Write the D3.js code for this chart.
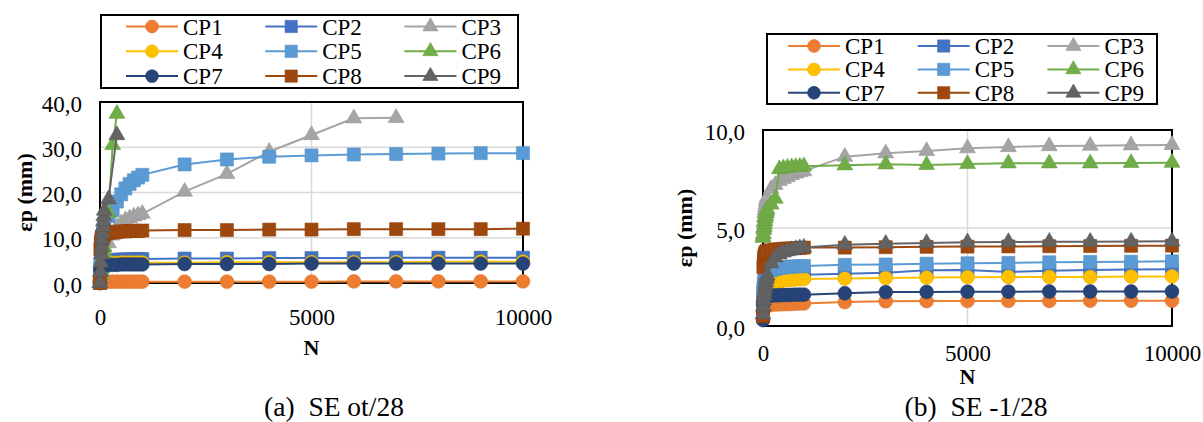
<!DOCTYPE html>
<html><head><meta charset="utf-8">
<script src="https://cdn.jsdelivr.net/npm/d3@7"></script>
<style>
html,body{margin:0;padding:0;background:#fff;}
svg{display:block;}
svg text{font-family:"Liberation Serif","Times New Roman",serif !important;}
</style></head>
<body><svg id="c" width="1203" height="422"></svg>
<script>
// ---------- data ----------
const seriesNames = ["CP1","CP2","CP3","CP4","CP5","CP6","CP7","CP8","CP9"];
const seriesColors = ["#ED7D31","#4472C4","#A5A5A5","#FFC000","#5B9BD5","#70AD47","#264478","#9E480E","#636363"];
const seriesShapes = ["circle","square","triangle","circle","square","triangle","circle","square","triangle"];
const nValues = [0,10,20,30,40,50,60,70,80,90,100,200,300,400,500,600,700,800,900,1000,2000,3000,4000,5000,6000,7000,8000,9000,10000];

// (a) SE ot/28
const a_CP1 = [0,0.1,0.15,0.2,0.2,0.2,0.25,0.25,0.25,0.25,0.25,0.25,0.3,0.3,0.3,0.3,0.3,0.3,0.3,0.3,0.3,0.3,0.3,0.3,0.35,0.35,0.35,0.35,0.35];
const a_CP2 = [0,3.2,3.8,4.1,4.3,4.5,4.6,4.7,4.8,4.9,4.9,5.0,5.1,5.1,5.2,5.2,5.2,5.3,5.3,5.3,5.4,5.4,5.5,5.5,5.5,5.6,5.6,5.6,5.6];
const a_CP3 = [0,1.5,2.5,3.2,3.8,4.3,4.8,5.2,5.6,6.0,6.6,8.8,10.5,12.4,13.2,13.9,14.3,14.7,15.0,15.3,20.2,24.1,29.0,32.7,36.4,36.5,null,null,null];
const a_CP4 = [0,3.0,3.6,3.9,4.0,4.1,4.2,4.2,4.3,4.3,4.3,4.4,4.4,4.4,4.5,4.5,4.5,4.5,4.5,4.5,4.5,4.6,4.6,4.6,4.6,4.6,4.7,4.7,4.7];
const a_CP5 = [0,3.5,5.5,7.0,8.2,9.2,10.0,10.8,11.5,12.1,12.6,14.8,16.1,18.0,19.6,20.9,21.9,22.7,23.3,23.9,26.2,27.3,27.9,28.2,28.4,28.5,28.6,28.7,28.7];
const a_CP6 = [0,1.0,1.8,2.5,3.2,4.0,4.8,5.6,6.5,7.3,8.0,15.5,30.5,37.4,null,null,null,null,null,null,null,null,null,null,null,null,null,null,null];
const a_CP7 = [0,2.8,3.3,3.5,3.6,3.7,3.8,3.8,3.9,3.9,3.9,4.0,4.0,4.0,4.1,4.1,4.1,4.1,4.1,4.1,4.2,4.2,4.2,4.3,4.3,4.3,4.3,4.3,4.3];
const a_CP8 = [0,7.5,8.8,9.4,9.8,10.1,10.3,10.4,10.5,10.6,10.7,11.0,11.2,11.3,11.4,11.4,11.5,11.5,11.5,11.6,11.7,11.7,11.8,11.8,11.9,11.9,11.9,11.9,12.0];
const a_CP9 = [0,2.5,4.5,6.3,8.0,9.6,11.0,12.4,13.6,14.8,16.0,18.5,null,32.7,null,null,null,null,null,null,null,null,null,null,null,null,null,null,null];

// (b) SE -1/28
const b_CP1 = [0.7,0.85,0.92,0.96,0.99,1.0,1.02,1.03,1.04,1.05,1.05,1.08,1.1,1.1,1.12,1.12,1.13,1.14,1.15,1.15,1.22,1.26,1.27,1.28,1.28,1.28,1.29,1.29,1.29];
const b_CP2 = [1.0,1.7,1.9,2.0,2.1,2.15,2.2,2.25,2.3,2.32,2.35,2.45,2.5,2.52,2.55,2.57,2.58,2.6,2.6,2.62,2.66,2.72,2.85,2.86,2.76,2.82,2.86,2.88,2.9];
const b_CP3 = [4.6,5.0,5.3,5.55,5.75,5.9,6.05,6.2,6.35,6.45,6.55,7.0,7.2,7.4,7.5,7.6,7.7,7.78,7.85,7.9,8.64,8.81,8.93,9.07,9.13,9.18,9.2,9.22,9.24];
const b_CP4 = [1.2,1.55,1.7,1.8,1.87,1.92,1.97,2.0,2.03,2.06,2.08,2.18,2.24,2.28,2.32,2.34,2.36,2.38,2.39,2.4,2.42,2.45,2.47,2.49,2.5,2.5,2.5,2.52,2.53];
const b_CP5 = [1.4,1.9,2.1,2.25,2.38,2.48,2.55,2.6,2.65,2.7,2.72,2.85,2.92,2.96,2.99,3.01,3.03,3.04,3.05,3.06,3.12,3.14,3.18,3.2,3.22,3.25,3.27,3.28,3.3];
const b_CP6 = [4.5,4.7,4.9,5.05,5.2,5.35,5.5,5.62,5.75,5.85,5.95,6.2,6.5,8.0,8.05,8.08,8.1,8.12,8.13,8.15,8.2,8.25,8.22,8.27,8.3,8.3,8.3,8.32,8.33];
const b_CP7 = [0.3,1.15,1.3,1.37,1.42,1.45,1.47,1.49,1.5,1.51,1.52,1.55,1.56,1.57,1.58,1.58,1.59,1.6,1.6,1.6,1.67,1.73,1.74,1.75,1.75,1.76,1.76,1.76,1.76];
const b_CP8 = [0.5,3.0,3.35,3.5,3.6,3.66,3.71,3.75,3.78,3.8,3.82,3.87,3.9,3.92,3.94,3.95,3.96,3.97,3.98,4.0,4.0,4.02,4.04,4.05,4.06,4.07,4.08,4.09,4.1];
const b_CP9 = [0.6,1.0,1.3,1.55,1.75,1.95,2.1,2.25,2.4,2.5,2.6,3.2,3.5,3.65,3.75,3.82,3.88,3.93,3.97,4.0,4.15,4.2,4.24,4.27,4.29,4.3,4.3,4.31,4.32];

const yTicksA = [0,10,20,30,40];
const yTicksB = [0,5,10];
const xTicks = [0,5000,10000];
const xLabel = "N";
const yLabel = "εp (mm)";
const captionA = "(a)\u00A0\u00A0SE ot/28";
const captionB = "(b)\u00A0\u00A0SE -1/28";

// ---------- drawing ----------
const svg = d3.select("#c");
svg.append("rect").attr("width",1203).attr("height",422).attr("fill","#fff");
const FONT = "Liberation Serif";
const fmt = v => d3.format(".1f")(v).replace(".", ",");

function symbolPath(shape, big){
  const t = shape==="circle" ? d3.symbolCircle : shape==="square" ? d3.symbolSquare : d3.symbolTriangle;
  const s = shape==="circle" ? (big?150:130) : shape==="square" ? (big?170:150) : (big?110:100);
  return d3.symbol().type(t).size(s)();
}

function panel(cfg){
  const g = svg.append("g");
  const x = d3.scaleLinear().domain([0,10000]).range([cfg.left, cfg.right]);
  const y = d3.scaleLinear().domain([0,cfg.ymax]).range([cfg.bottom, cfg.top]);

  // gridlines
  g.selectAll(".hg").data(cfg.yTicks.filter(v=>v>0 && v<cfg.ymax)).enter().append("line")
    .attr("x1",cfg.left).attr("x2",cfg.right).attr("y1",d=>y(d)).attr("y2",d=>y(d))
    .attr("stroke","#D9D9D9").attr("stroke-width",1.5);
  g.selectAll(".vg").data(xTicks.filter(v=>v>0 && v<10000)).enter().append("line")
    .attr("x1",d=>x(d)).attr("x2",d=>x(d)).attr("y1",cfg.top).attr("y2",cfg.bottom)
    .attr("stroke","#D9D9D9").attr("stroke-width",1.5);

  // axes via d3 axis (labels only)
  const ya = d3.axisLeft(y).tickValues(cfg.yTicks).tickFormat(fmt).tickSize(0).tickPadding(18);
  const yg = g.append("g").attr("transform",`translate(${cfg.left},0)`).call(ya);
  yg.attr("font-family",FONT).attr("font-size",23);
  yg.select(".domain").remove();
  yg.selectAll("text").attr("fill","#000").attr("dy","0.4em");
  const xa = d3.axisBottom(x).tickValues(xTicks).tickFormat(d3.format("d")).tickSize(0).tickPadding(cfg.xPad);
  const xg = g.append("g").attr("transform",`translate(0,${cfg.bottom})`).call(xa);
  xg.attr("font-family",FONT).attr("font-size",23);
  xg.select(".domain").remove();
  xg.selectAll("text").attr("fill","#000");

  // border box
  g.append("rect").attr("x",cfg.left).attr("y",cfg.top)
    .attr("width",cfg.right-cfg.left).attr("height",cfg.bottom-cfg.top)
    .attr("fill","none").attr("stroke","#000").attr("stroke-width",2);

  // series
  const line = d3.line().x(d=>x(d.n)).y(d=>y(d.v));
  cfg.series.forEach((vals,i)=>{
    const pts = nValues.map((n,k)=>({n, v: vals[k]})).filter(d=>d.v!==null && d.v!==undefined);
    const sg = g.append("g");
    sg.append("path").datum(pts).attr("d",line).attr("fill","none")
      .attr("stroke",seriesColors[i]).attr("stroke-width",2);
    sg.selectAll("path.m").data(pts).enter().append("path").attr("class","m")
      .attr("d",symbolPath(seriesShapes[i],true))
      .attr("transform",d=>`translate(${x(d.n)},${y(d.v)})`)
      .attr("fill",seriesColors[i]).attr("stroke",d3.color(seriesColors[i]).darker(0.2)).attr("stroke-width",0.6);
  });

  // axis titles
  g.append("text").attr("x",(cfg.left+cfg.right)/2).attr("y",cfg.nY).attr("text-anchor","middle")
    .attr("font-family",FONT).attr("font-size",22).attr("font-weight","bold").text(xLabel);
  g.append("text").attr("transform",`translate(${cfg.yLabX},${(cfg.top+cfg.bottom)/2}) rotate(-90)`)
    .attr("text-anchor","middle").attr("dy","0.35em")
    .attr("font-family",FONT).attr("font-size",22).attr("font-weight","bold").text(yLabel);
  g.append("text").attr("x",cfg.capX).attr("y",cfg.capY).attr("text-anchor","middle")
    .attr("font-family",FONT).attr("font-size",27.5).text(cfg.caption);

  // legend
  const L = cfg.legend;
  g.append("rect").attr("x",L.x0).attr("y",L.y0).attr("width",L.x1-L.x0).attr("height",L.y1-L.y0)
    .attr("fill","#fff").attr("stroke","#000").attr("stroke-width",2);
  seriesNames.forEach((name,i)=>{
    const col = i%3, row = Math.floor(i/3);
    const mx = L.mx + col*L.dx, my = L.my + row*L.dy;
    g.append("line").attr("x1",mx-26).attr("x2",mx+26).attr("y1",my).attr("y2",my)
      .attr("stroke",seriesColors[i]).attr("stroke-width",2);
    g.append("path").attr("d",symbolPath(seriesShapes[i],false)).attr("transform",`translate(${mx},${my})`)
      .attr("fill",seriesColors[i]).attr("stroke",d3.color(seriesColors[i]).darker(0.2)).attr("stroke-width",0.6);
    g.append("text").attr("x",mx+31).attr("y",my).attr("dy","0.35em")
      .attr("font-family",FONT).attr("font-size",23).text(name);
  });
}

panel({left:100,right:523,top:102,bottom:283,ymax:40,yTicks:yTicksA,xPad:26,nY:355,yLabX:24,
  capX:334,capY:416,caption:captionA,
  series:[a_CP1,a_CP2,a_CP3,a_CP4,a_CP5,a_CP6,a_CP7,a_CP8,a_CP9],
  legend:{x0:101,y0:15,x1:518,y1:88,mx:152,my:26.5,dx:139.2,dy:24.8}});
panel({left:763,right:1172,top:130,bottom:326,ymax:10,yTicks:yTicksB,xPad:19,nY:384,yLabX:684,
  capX:976,capY:416,caption:captionB,
  series:[b_CP1,b_CP2,b_CP3,b_CP4,b_CP5,b_CP6,b_CP7,b_CP8,b_CP9],
  legend:{x0:767,y0:34,x1:1157,y1:104,mx:814,my:46,dx:129.7,dy:23.4}});
</script></body></html>
